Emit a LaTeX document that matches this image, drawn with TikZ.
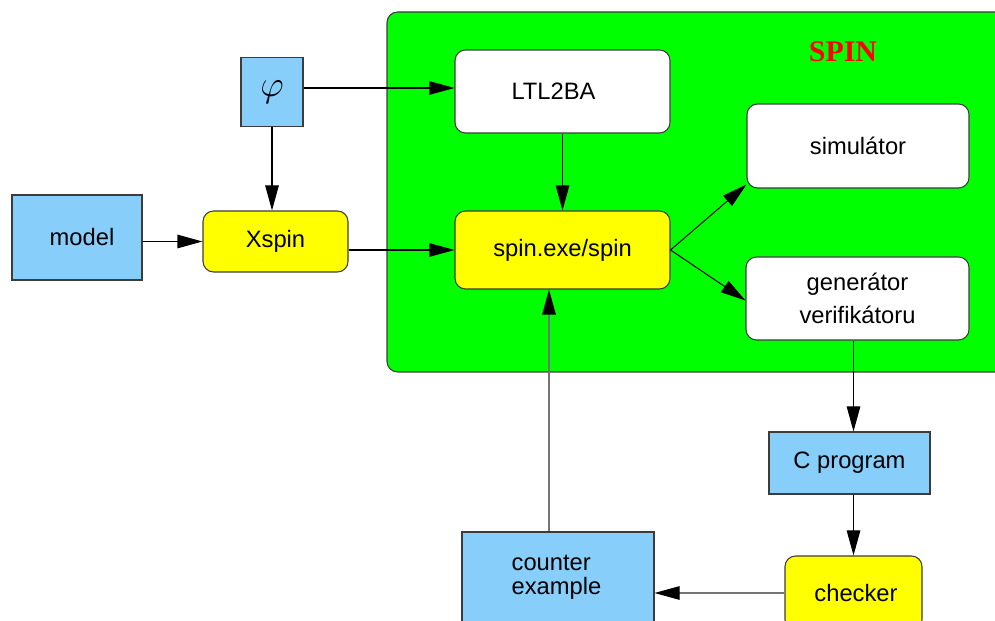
\documentclass[tikz,border=0pt]{standalone}
\usepackage{fontspec}
\setmainfont{Liberation Sans}
\newfontfamily\spinserif{Liberation Serif}
\usepackage{xcolor}
\usepackage{tikz}
\usetikzlibrary{arrows.meta,positioning}
\definecolor{spblue}{RGB}{135,206,250}
\definecolor{spyellow}{RGB}{255,255,0}
\definecolor{spgreen}{RGB}{0,255,0}
\definecolor{spedge}{RGB}{60,60,60}
\tikzset{
  spnode/.style={draw=spedge, line width=0.6pt, align=center, inner sep=3pt,
    font=\fontsize{13.5}{15.5}\selectfont},
  spblue/.style={spnode, fill=spblue},
  spyel/.style={spnode, fill=spyellow, rounded corners=6pt},
  spwhite/.style={spnode, fill=white, rounded corners=6pt},
  sparrow/.style={-{Triangle[length=5mm,width=2.7mm,color=black]}, line width=0.6pt, draw=black},
  spgrey/.style={sparrow, draw=black!55}
}

\begin{document}
\begin{tikzpicture}
  \clip (0,0) rectangle (19.90,12.42);
  % SPIN frame
  \draw[draw=spedge, line width=0.6pt, fill=spgreen, rounded corners=6pt]
    (7.74,4.98) rectangle (20.50,12.18);
  \node[text=red, font=\spinserif\bfseries\fontsize{17}{20}\selectfont] (mTitle) at (16.86,11.38) {SPIN};
  \node[spblue, minimum width=1.24cm, minimum height=1.38cm, font=\fontsize{20}{22}\selectfont] (mPhi) at (5.44,10.58) {$\varphi$};
  \node[spwhite, minimum width=4.30cm, minimum height=1.66cm] (mLtl) at (11.25,10.59) {\hspace*{-0.36cm}LTL2BA};
  \node[spwhite, minimum width=4.44cm, minimum height=1.68cm] (mSim) at (17.16,9.50) {simulátor};
  \node[spblue, minimum width=2.60cm, minimum height=1.70cm] (mModel) at (1.54,7.67) {\hspace*{0.2cm}model};
  \node[spyel, minimum width=2.90cm, minimum height=1.22cm] (mXspin) at (5.51,7.59) {Xspin};
  \node[spyel, minimum width=4.30cm, minimum height=1.56cm] (mSpin) at (11.25,7.42) {spin.exe/spin};
  \node[spwhite, minimum width=4.46cm, minimum height=1.66cm] (mGen) at (17.15,6.45) {generátor\\[3pt]verifikátoru};
  \node[spblue, minimum width=3.22cm, minimum height=1.24cm] (mCprog) at (16.99,3.16) {C program};
  \node[spblue, minimum width=3.84cm, minimum height=1.80cm] (mCounter) at (11.16,0.88) {\hspace*{-0.06cm}\begin{tabular}{@{}l@{}}counter\\[-2pt]example\end{tabular}};
  \node[spyel, minimum width=2.74cm, minimum height=1.48cm] (mChecker) at (17.07,0.56) {\hspace*{0.1cm}checker};
  \draw[sparrow] (mPhi.east |- 0,10.66) -- (mLtl.west |- 0,10.66);
  \draw[sparrow] (mPhi) -- (mPhi |- mXspin.north);
  \draw[sparrow] (mModel.east |- mXspin) -- (mXspin);
  \draw[sparrow] (mXspin.east |- mSpin) -- (mSpin.west);
  \draw[sparrow] (mLtl) -- (mSpin);
  \draw[sparrow] (mSpin.east) -- ([yshift=0.08cm]mSim.south west);
  \draw[sparrow] (mSpin.east) -- ([yshift=-0.04cm]mGen.west);
  \draw[sparrow] ([xshift=-0.08cm]mGen.south) -- ([xshift=-0.08cm]mGen.south |- mCprog.north);
  \draw[sparrow] (mChecker |- mCprog.south) -- (mChecker.north);
  \draw[spgrey] (mChecker.west) -- (mChecker.west -| mCounter.east);
  \draw[spgrey] ([xshift=-0.18cm]mCounter.north) -- ([xshift=-0.18cm]mCounter.north |- mSpin.south);
\end{tikzpicture}
\end{document}
